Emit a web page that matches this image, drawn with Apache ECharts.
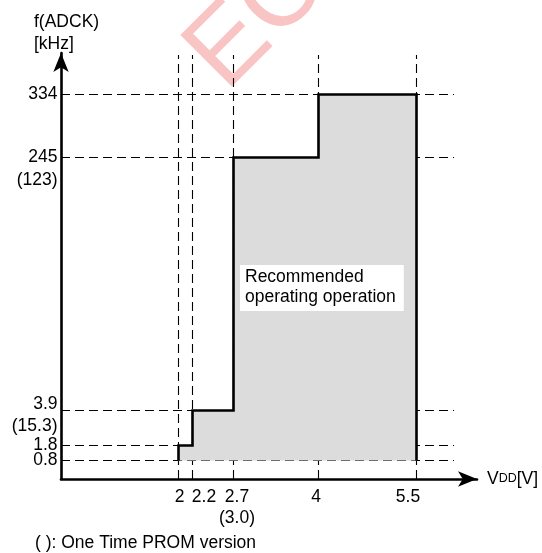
<!DOCTYPE html>
<html><head><meta charset="utf-8">
<script src="https://cdn.jsdelivr.net/npm/echarts@6/dist/echarts.min.js"></script>
<style>html,body{margin:0;padding:0;background:#fff}#c{width:542px;height:553px}</style>
</head><body><div id="c"></div>
<script>
// ---- data ----
const xTickValues = [2, 2.2, 2.7, 4, 5.5];
const xTickLabels = ['2', '2.2', '2.7', '4', '5.5'];
const xSubLabels  = ['', '', '(3.0)', '', ''];
const yTickValues = [0.8, 1.8, 3.9, 245, 334];
const yTickLabels = ['0.8', '1.8', '3.9', '245', '334'];
const ySubLabels  = ['', '', '(15.3)', '(123)', ''];
// boundary of the recommended operating region (VDD [V], f(ADCK) [kHz])
const boundaryV = [2, 2, 2.2, 2.2, 2.7, 2.7, 4, 4, 5.5, 5.5];
const boundaryF = [0.8, 1.8, 1.8, 3.9, 3.9, 245, 245, 334, 334, 0.8];

// ---- schematic (non-linear) axis scales: where each tick value sits on its axis ----
const xAxisPos = [117.5, 131.5, 172.5, 257.5, 355.5];
const yAxisPos = [18.5, 33.5, 68.5, 321.5, 384.5];
const xs = v => xAxisPos[xTickValues.indexOf(v)];
const ys = v => yAxisPos[yTickValues.indexOf(v)];

// ---- layout / style ----
const FONT = '"Liberation Sans", Arial, Helvetica, sans-serif';
const FS = 17.5;
const X_MAX = 416, Y_MAX = 426;
const DASH_TOP = 424, DASH_RIGHT = 393;
const xLabelShift = [1, 11.5, 3.5, -2.5, -8.5];
const yLabelRise = [0, 0, 6, 0, 0];
const ySubOffset = [0, 0, 15.5, 22.3, 0];

const xRich = {}, yRich = {};
xTickValues.forEach((v, i) => {
  const s = xLabelShift[i];
  xRich['r' + i] = {fontFamily: FONT, fontSize: FS, color: '#000', lineHeight: 21,
    padding: [0, s < 0 ? -2 * s : 0, 0, s > 0 ? 2 * s : 0]};
});
yTickValues.forEach((v, i) => {
  yRich['y' + i] = {fontFamily: FONT, fontSize: FS, color: '#000', lineHeight: 20,
    padding: [0, 0, 2 * yLabelRise[i], 0]};
});

const dashStyle = {color: '#000', width: 1.1, type: [9, 5]};
const series = [];
xTickValues.forEach(v => series.push({
  type: 'line', silent: true, symbol: 'none', clip: false, z: 1,
  lineStyle: dashStyle, data: [[xs(v), 0], [xs(v), DASH_TOP]]
}));
yTickValues.forEach(v => series.push({
  type: 'line', silent: true, symbol: 'none', clip: false, z: 1,
  lineStyle: dashStyle, data: [[0, ys(v)], [DASH_RIGHT, ys(v)]]
}));
series.push({
  type: 'line', silent: true, symbol: 'none', clip: false, z: 3,
  lineStyle: {color: '#000', width: 2.6, join: 'miter'},
  areaStyle: {color: '#dcdcdc', opacity: 1, origin: ys(0.8)},
  data: boundaryV.map((v, i) => [xs(v), ys(boundaryF[i])])
});
series.push({
  type: 'line', silent: true, symbol: 'circle', symbolSize: 0, showSymbol: true, z: 4,
  lineStyle: {width: 0, opacity: 0}, itemStyle: {color: '#000', opacity: 1},
  label: {show: true, position: 'left', distance: 3.5, color: '#000', opacity: 1,
    fontFamily: FONT, fontSize: FS, formatter: p => p.data.sub},
  data: yTickValues.map((v, i) => ({value: [0, ys(v)], sub: ySubLabels[i], label: {offset: [0, ySubOffset[i]]}}))
    .filter(d => d.sub)
});

// two label layers per axis (even / odd ticks) so crowded neighbours are never dropped
function makeXAxis(parity, main) {
  return {
    type: 'value', min: 0, max: X_MAX, position: 'bottom', offset: 0,
    axisLine: main ? {show: true, onZero: false, symbol: ['none', 'arrow'], symbolSize: [11.5, 19],
      lineStyle: {color: '#000', width: 2.6}} : {show: false},
    axisTick: {show: false}, splitLine: {show: false},
    axisLabel: {
      customValues: xAxisPos.filter((p, i) => i % 2 === parity), margin: 8, rich: xRich,
      showMinLabel: true, showMaxLabel: true, hideOverlap: false,
      formatter: val => {
        const i = xAxisPos.indexOf(val);
        if (i < 0) return '';
        return '{r' + i + '|' + xTickLabels[i] + '}' + (xSubLabels[i] ? '\n{r' + i + '|' + xSubLabels[i] + '}' : '');
      }
    }
  };
}
function makeYAxis(parity, main) {
  return {
    type: 'value', min: 0, max: Y_MAX, position: 'left', offset: 0,
    axisLine: main ? {show: true, onZero: false, symbol: ['none', 'arrow'], symbolSize: [11.5, 19],
      lineStyle: {color: '#000', width: 2.6}} : {show: false},
    axisTick: {show: false}, splitLine: {show: false},
    axisLabel: {
      customValues: yAxisPos.filter((p, i) => i % 2 === parity), margin: 3.5, rich: yRich,
      showMinLabel: true, showMaxLabel: true, hideOverlap: false,
      formatter: val => {
        const i = yAxisPos.indexOf(val);
        return i < 0 ? '' : '{y' + i + '|' + yTickLabels[i] + '}';
      }
    }
  };
}

const chart = echarts.init(document.getElementById('c'), null, {renderer: 'canvas'});
chart.setOption({
  animation: false,
  backgroundColor: '#fff',
  grid: {left: 61, top: 53, width: X_MAX, height: Y_MAX, outerBoundsMode: 'none', containLabel: false},
  xAxis: [makeXAxis(0, true), makeXAxis(1, false)],
  yAxis: [makeYAxis(0, true), makeYAxis(1, false)],
  graphic: [
    {type: 'text', z: -10, silent: true, x: 205, y: 72, rotation: Math.PI / 4,
      style: {text: 'EC', fontFamily: FONT, fontSize: 106, fill: 'rgba(235,60,60,0.3)',
        align: 'left', verticalAlign: 'middle'}},
    {type: 'text', x: 34, y: 22, style: {text: 'f(ADCK)', fontFamily: FONT, fontSize: FS, fill: '#000', align: 'left', verticalAlign: 'middle'}},
    {type: 'text', x: 34, y: 44.5, style: {text: '[kHz]', fontFamily: FONT, fontSize: FS, fill: '#000', align: 'left', verticalAlign: 'middle'}},
    {type: 'text', x: 487, y: 479, style: {
      text: '{a|V}{b|DD}{a|[V]}', align: 'left', verticalAlign: 'middle',
      rich: {a: {fontFamily: FONT, fontSize: FS, fill: '#000', color: '#000'},
             b: {fontFamily: FONT, fontSize: 12.5, fill: '#000', color: '#000'}}}},
    {type: 'text', x: 35, y: 543, style: {text: '( ): One Time PROM version', fontFamily: FONT, fontSize: FS, fill: '#000', align: 'left', verticalAlign: 'middle'}},
    {type: 'text', x: 240, y: 265, z: 10, style: {
      text: 'Recommended\noperating operation', fontFamily: FONT, fontSize: FS, fill: '#000',
      lineHeight: 20, align: 'left', verticalAlign: 'top',
      backgroundColor: '#fff', padding: [2, 8, 4, 5]}}
  ],
  series: series
});
</script>
</body></html>
